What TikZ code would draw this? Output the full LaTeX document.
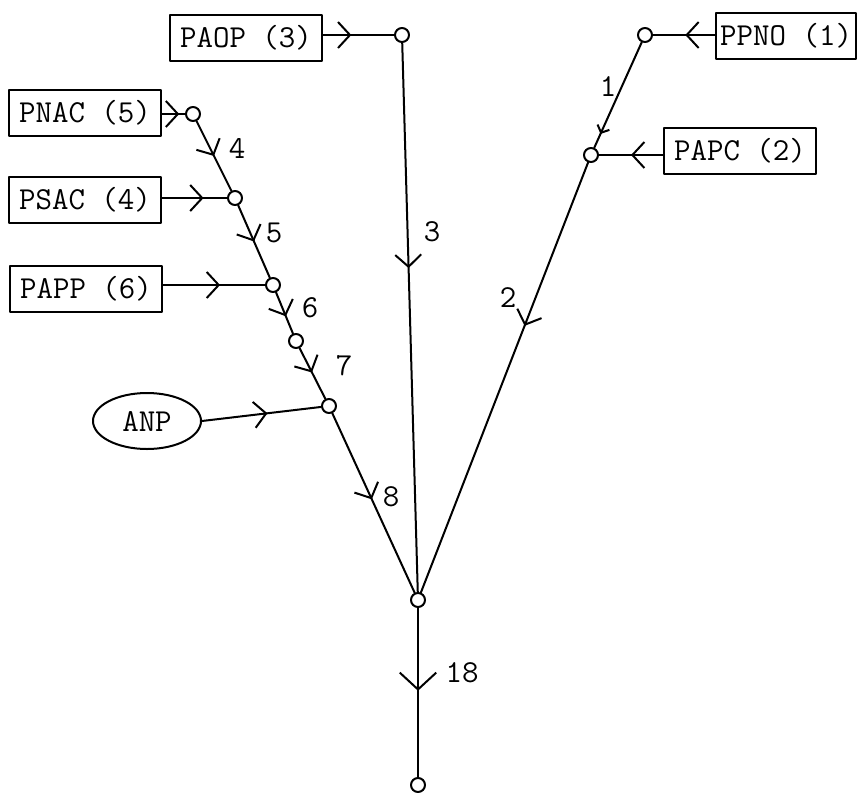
\documentclass[tikz,border=0pt]{standalone}
\usetikzlibrary{arrows.meta,decorations.markings,shapes.geometric}
\tikzset{
  every picture/.style={line width=1pt, line cap=round, line join=round},
  every node/.style={font=\fontsize{16}{18}\selectfont\ttfamily},
  % Knoten und Quellen
  knoten/.style={circle, draw, fill=white, inner sep=0pt, minimum size=7pt},
  quelle/.style={draw, rectangle, inner xsep=5pt, inner ysep=0pt, minimum height=23pt},
  zufluss/.style={draw, ellipse, inner sep=0pt, minimum width=54pt, minimum height=28pt},
  nr/.style={inner sep=1pt},
  % Flusspfeil in der Mitte der Kante: Position, Skalierung
  fluss/.style 2 args={postaction={decorate}, decoration={markings,
      mark=at position #1 with {\arrow{Straight Barb[length=6pt,width=13pt,scale=#2]}}}},
}
\begin{document}
\begin{tikzpicture}[x=0.5pt, y=-0.5pt]
  \useasboundingbox (0,0) rectangle (859,794);
  % Knoten
  \node[knoten] (kPAOP) at (402,35) {};
  \node[knoten] (kPPNO) at (645,35) {};
  \node[knoten] (kPAPC) at (591,155) {};
  \node[knoten] (kPNAC) at (193,114) {};
  \node[knoten] (kPSAC) at (235,198) {};
  \node[knoten] (kPAPP) at (273,285) {};
  \node[knoten] (kZw)   at (296,341) {};
  \node[knoten] (kANP)  at (329,406) {};
  \node[knoten] (kSum)  at (418,600) {};
  \node[knoten] (kEnde) at (418,785) {};
  % Quellen
  \node[quelle] (PAOP) at (246,38) {PAOP (3)};
  \node[quelle, inner xsep=2pt, anchor=east] (PPNO) at (857,36) {PPNO (1)};
  \node[quelle] (PAPC) at (740,151) {PAPC (2)};
  \node[quelle] (PNAC) at (85,113) {PNAC (5)};
  \node[quelle] (PSAC) at (85,200) {PSAC (4)};
  \node[quelle] (PAPP) at (86,289) {PAPP (6)};
  \node[zufluss] (ANP) at (147,421) {ANP};
  % Zufluesse, waagrecht in Hoehe des Knotens
  \draw[fluss={0.4}{1}] (PAOP.east |- kPAOP) -- (kPAOP);
  \draw[fluss={0.48}{1}] (PPNO.west |- kPPNO) -- (kPPNO);
  \draw[fluss={0.5}{1}] (PAPC.west |- kPAPC) -- (kPAPC);
  \draw[fluss={0.75}{1}] (PNAC.east |- kPNAC) -- (kPNAC);
  \draw[fluss={0.64}{1}] (PSAC.east |- kPSAC) -- (kPSAC);
  \draw[fluss={0.56}{1}] (PAPP.east |- kPAPP) -- (kPAPP);
  \draw[fluss={0.55}{1}] (ANP.east) -- (kANP);
  % Kanten
  \draw[fluss={0.5}{1}] (kPNAC) -- (kPSAC);
  \draw[fluss={0.5}{1}] (kPSAC) -- (kPAPP);
  \draw[fluss={0.58}{1}] (kPAPP) -- (kZw);
  \draw[fluss={0.48}{1}] (kZw) -- (kANP);
  \draw[fluss={0.48}{1}] (kANP) -- (kSum);
  \draw[fluss={0.41}{1}] (kPAOP) -- (kSum);
  \draw[fluss={0.87}{0.5}] (kPPNO) -- (kPAPC);
  \draw[fluss={0.38}{1}] (kPAPC) -- (kSum);
  \draw[fluss={0.49}{1.4}] (kSum) -- (kEnde);
  % Kantennummern
  \node[nr] (n1) at (608,87) {1};
  \node[nr] (n2) at (508,298) {2};
  \node[nr] (n3) at (432,232) {3};
  \node[nr] (n4) at (237,148) {4};
  \node[nr] (n5) at (274,233) {5};
  \node[nr] (n6) at (310,308) {6};
  \node[nr] (n7) at (344,366) {7};
  \node[nr] (n8) at (391,497) {8};
  \node[nr] (n18) at (462,673) {18};
\end{tikzpicture}
\end{document}
